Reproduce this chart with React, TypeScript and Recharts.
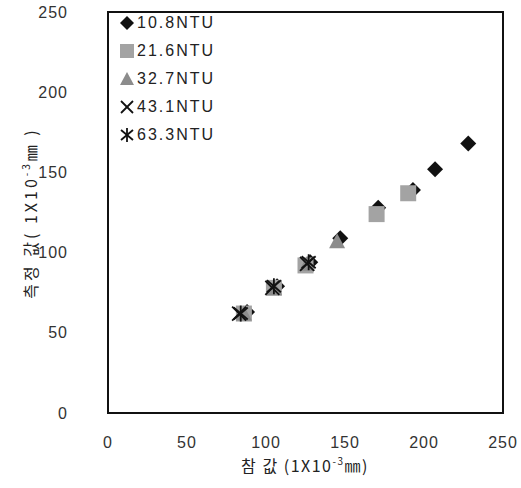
import React from "react"
import {
  ScatterChart,
  Scatter,
  XAxis,
  YAxis,
  ReferenceArea,
} from "recharts"

const xTicks = [0, 50, 100, 150, 200, 250]
const yTicks = [0, 50, 100, 150, 200, 250]

const ntu108 = [
  { x: 88, y: 63 },
  { x: 107, y: 79 },
  { x: 128, y: 94 },
  { x: 147, y: 109 },
  { x: 171, y: 128 },
  { x: 193, y: 139 },
  { x: 207, y: 152 },
  { x: 228, y: 168 },
]
const ntu216 = [
  { x: 86, y: 62 },
  { x: 105, y: 78 },
  { x: 125, y: 92 },
  { x: 170, y: 124 },
  { x: 190, y: 137 },
]
const ntu327 = [
  { x: 86, y: 62 },
  { x: 105, y: 78 },
  { x: 126, y: 93 },
  { x: 145, y: 107 },
]
const ntu431 = [
  { x: 83, y: 62 },
  { x: 104, y: 78 },
  { x: 126, y: 93 },
]
const ntu633 = [
  { x: 84, y: 62 },
  { x: 105, y: 79 },
  { x: 127, y: 94 },
]

const seriesNames = ["10.8NTU", "21.6NTU", "32.7NTU", "43.1NTU", "63.3NTU"]

const drawMarker = (kind: string, cx: number, cy: number, s = 8) => {
  if (kind === "diamond") {
    return (
      <path
        d={`M${cx},${cy - s} L${cx + s},${cy} L${cx},${cy + s} L${cx - s},${cy} Z`}
        fill="#111"
      />
    )
  }
  if (kind === "square") {
    return (
      <rect x={cx - s} y={cy - s} width={2 * s} height={2 * s} fill="#a3a3a3" />
    )
  }
  if (kind === "triangle") {
    return (
      <path
        d={`M${cx},${cy - s} L${cx + s},${cy + s - 1} L${cx - s},${cy + s - 1} Z`}
        fill="#8c8c8c"
      />
    )
  }
  if (kind === "x") {
    return (
      <g stroke="#111" strokeWidth={1.8}>
        <line x1={cx - s + 1} y1={cy - s + 1} x2={cx + s - 1} y2={cy + s - 1} />
        <line x1={cx - s + 1} y1={cy + s - 1} x2={cx + s - 1} y2={cy - s + 1} />
      </g>
    )
  }
  return (
    <g stroke="#111" strokeWidth={1.8}>
      <line x1={cx - s + 1} y1={cy - s + 2} x2={cx + s - 1} y2={cy + s - 2} />
      <line x1={cx - s + 1} y1={cy + s - 2} x2={cx + s - 1} y2={cy - s + 2} />
      <line x1={cx} y1={cy - s} x2={cx} y2={cy + s} />
    </g>
  )
}

const kinds = ["diamond", "square", "triangle", "x", "star"]

const makeShape = (kind: string) => (props: any) =>
  drawMarker(kind, props.cx, props.cy)

const tickFont = "'Liberation Sans', Arial, sans-serif"
const labelFont = "'Noto Sans CJK KR', 'Liberation Sans', sans-serif"

const LegendBox = () => (
  <div
    style={{
      position: "absolute",
      left: 118,
      top: 9,
      fontFamily: tickFont,
    }}
  >
    {seriesNames.map((name, i) => (
      <div
        key={name}
        style={{ display: "flex", alignItems: "center", height: 28 }}
      >
        <svg width={18} height={18} style={{ marginRight: 1 }}>
          {drawMarker(kinds[i], 9, 9, 7)}
        </svg>
        <span style={{ fontSize: 16, letterSpacing: 2, color: "#222" }}>
          {name}
        </span>
      </div>
    ))}
  </div>
)

export default function App() {
  return (
    <div style={{ position: "absolute", left: 0, top: 0, width: 521, height: 488, background: "#fff" }}>
      <ScatterChart
        width={521}
        height={488}
        margin={{ top: 12, right: 18, left: 0, bottom: 0 }}
      >
        <XAxis
          type="number"
          dataKey="x"
          domain={[0, 250]}
          ticks={xTicks}
          height={75}
          tickLine={false}
          axisLine={false}
          tickMargin={18}
          tick={{ fill: "#333", fontSize: 16, fontFamily: tickFont, letterSpacing: 1 }}
        />
        <YAxis
          type="number"
          dataKey="y"
          domain={[0, 250]}
          ticks={yTicks}
          width={108}
          tickLine={false}
          axisLine={false}
          tickMargin={34}
          tick={{ fill: "#333", fontSize: 16, fontFamily: tickFont, letterSpacing: 1 }}
        />
        <ReferenceArea
          x1={0}
          x2={250}
          y1={0}
          y2={250}
          fill="none"
          stroke="#111"
          strokeWidth={2}
          fillOpacity={0}
        />
        <Scatter name={seriesNames[0]} data={ntu108} shape={makeShape("diamond")} isAnimationActive={false} />
        <Scatter name={seriesNames[1]} data={ntu216} shape={makeShape("square")} isAnimationActive={false} />
        <Scatter name={seriesNames[2]} data={ntu327} shape={makeShape("triangle")} isAnimationActive={false} />
        <Scatter name={seriesNames[3]} data={ntu431} shape={makeShape("x")} isAnimationActive={false} />
        <Scatter name={seriesNames[4]} data={ntu633} shape={makeShape("star")} isAnimationActive={false} />
        <text x={305} y={472} textAnchor="middle" fontSize={16} letterSpacing={1.5} fill="#222" fontFamily={labelFont}>
          참 값 (1X10
          <tspan dy={-7} fontSize={10}>-3</tspan>
          <tspan dy={7}>㎜)</tspan>
        </text>
        <text
          x={0}
          y={0}
          transform="translate(37,213) rotate(-90)"
          textAnchor="middle"
          fontSize={16}
          letterSpacing={3}
          fill="#222"
          fontFamily={labelFont}
        >
          측정 값( 1X10
          <tspan dy={-7} fontSize={10}>-3</tspan>
          <tspan dy={7}>㎜ )</tspan>
        </text>
      </ScatterChart>
      <LegendBox />
    </div>
  )
}
